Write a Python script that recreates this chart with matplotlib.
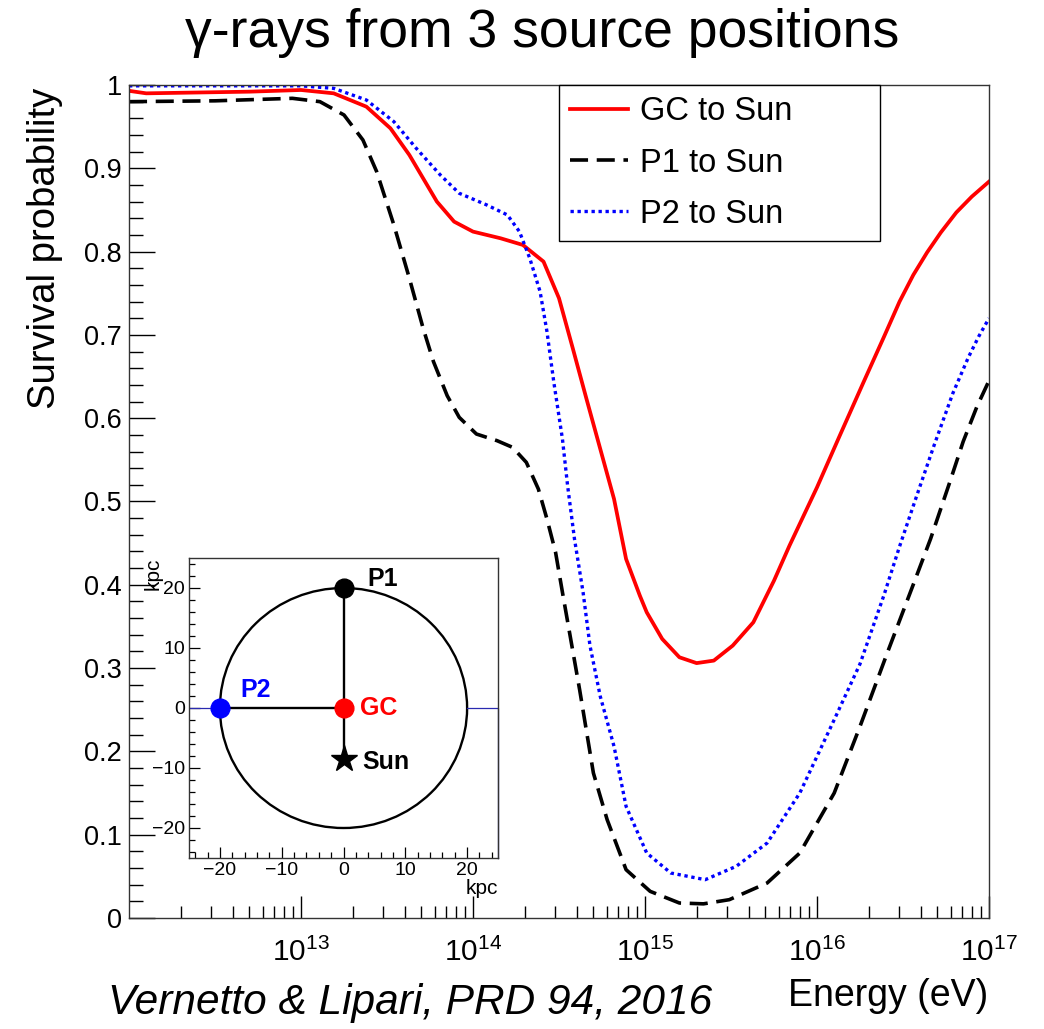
import numpy as np
import matplotlib
matplotlib.use('Agg')
from matplotlib import pyplot as plt
from matplotlib.patches import Circle
from matplotlib.ticker import FixedLocator, LogLocator, MultipleLocator, NullFormatter, FuncFormatter

plt.rcParams['font.family'] = ['Liberation Sans', 'DejaVu Sans']
plt.rcParams['mathtext.fontset'] = 'custom'
plt.rcParams['mathtext.rm'] = 'Liberation Sans'
plt.rcParams['mathtext.it'] = 'Liberation Sans:italic'

# survival probability vs log10(E/eV)
loge_gc = [12.0, 12.1, 12.4, 12.7, 13.0, 13.19, 13.38, 13.52, 13.63, 13.79, 13.89, 14.0,
           14.16, 14.29, 14.41, 14.50, 14.58, 14.66, 14.74, 14.82, 14.89, 14.97, 15.01,
           15.10, 15.20, 15.30, 15.40, 15.51, 15.63, 15.75, 15.84, 16.0, 16.13, 16.27,
           16.39, 16.48, 16.56, 16.64, 16.72, 16.81, 16.90, 17.0]
p_gc = [0.993, 0.990, 0.991, 0.992, 0.994, 0.990, 0.974, 0.948, 0.916, 0.860, 0.836, 0.824,
        0.816, 0.808, 0.788, 0.744, 0.684, 0.623, 0.563, 0.503, 0.431, 0.387, 0.367,
        0.335, 0.313, 0.306, 0.309, 0.327, 0.355, 0.405, 0.447, 0.517, 0.578, 0.643,
        0.698, 0.740, 0.772, 0.799, 0.823, 0.847, 0.866, 0.884]

loge_p1 = [12.0, 12.5, 12.95, 13.11, 13.25, 13.36, 13.44, 13.54, 13.63, 13.71, 13.77, 13.85,
           13.92, 14.02, 14.14, 14.23, 14.31, 14.38, 14.43, 14.48, 14.52, 14.62, 14.70,
           14.78, 14.89, 15.03, 15.20, 15.34, 15.49, 15.71, 15.90, 16.10, 16.25, 16.41,
           16.55, 16.66, 16.77, 16.85, 16.93, 17.0]
p_p1 = [0.980, 0.981, 0.984, 0.980, 0.964, 0.934, 0.896, 0.832, 0.768, 0.708, 0.668, 0.627,
        0.601, 0.581, 0.573, 0.565, 0.547, 0.515, 0.479, 0.439, 0.391, 0.274, 0.174,
        0.118, 0.058, 0.032, 0.018, 0.017, 0.022, 0.042, 0.078, 0.150, 0.230, 0.319,
        0.395, 0.455, 0.522, 0.572, 0.614, 0.645]

loge_p2 = [12.0, 13.0, 13.19, 13.38, 13.54, 13.67, 13.81, 13.92, 14.08, 14.20, 14.27, 14.33,
           14.39, 14.43, 14.47, 14.52, 14.55, 14.59, 14.64, 14.68, 14.74, 14.82, 14.89,
           15.01, 15.15, 15.35, 15.53, 15.71, 15.90, 16.10, 16.25, 16.39, 16.48, 16.58,
           16.68, 16.79, 16.88, 16.94, 17.0]
p_p2 = [0.999, 0.999, 0.996, 0.982, 0.956, 0.924, 0.892, 0.870, 0.856, 0.844, 0.824, 0.792,
        0.752, 0.704, 0.643, 0.575, 0.519, 0.455, 0.391, 0.327, 0.266, 0.206, 0.134,
        0.078, 0.054, 0.046, 0.062, 0.090, 0.150, 0.238, 0.305, 0.388, 0.446, 0.507,
        0.567, 0.630, 0.673, 0.698, 0.720]

# galaxy sketch (kpc)
galaxy_radius = 20.0
src_names = ['GC', 'P1', 'P2']
src_x = [0.0, 0.0, -20.0]
src_y = [0.0, 20.0, 0.0]
src_colors = ['#ff0000', 'black', '#0000ff']
sun_x, sun_y = 0.0, -8.5
axis_line_x = [20.0, 25.0, 25.0]
axis_line_y = [0.0, 0.0, -25.0]

W, H = 1044, 1029
def fx(px):
    return px / W
def fy(py):
    return 1 - py / H

fig = plt.figure(figsize=(W / 100, H / 100), dpi=100)

ax = fig.add_axes([fx(129), fy(918), (989 - 129) / W, (918 - 85) / H])
ax.plot(10 ** np.array(loge_gc), p_gc, color='#ff0000', lw=2.7, label='GC to Sun')
ax.plot(10 ** np.array(loge_p1), p_p1, color='black', lw=2.6, dashes=(5, 2.4), label='P1 to Sun')
ax.plot(10 ** np.array(loge_p2), p_p2, color='#0000ff', lw=2.4, dashes=(1, 1.1), label='P2 to Sun')

ax.set_xscale('log')
ax.set_xlim(1e12, 1e17)
ax.set_ylim(0, 1)
ax.xaxis.set_major_locator(FixedLocator(10.0 ** np.arange(13, 18)))
ax.set_xticklabels([f'$10^{{{k}}}$' for k in range(13, 18)])
ax.xaxis.set_minor_locator(LogLocator(base=10, subs=np.arange(2, 10)))
ax.xaxis.set_minor_formatter(NullFormatter())
ax.yaxis.set_major_locator(MultipleLocator(0.1))
ax.yaxis.set_minor_locator(MultipleLocator(0.02))
ax.yaxis.set_major_formatter(FuncFormatter(lambda v, pos: '0' if abs(v) < 1e-9 else ('1' if abs(v - 1) < 1e-9 else f'{v:.1f}')))

ax.tick_params(axis='y', which='major', direction='in', length=18.5, width=1, labelsize=19.5, pad=5, right=False)
ax.tick_params(axis='y', which='minor', direction='in', length=10, width=1, right=False)
ax.tick_params(axis='x', which='major', direction='in', length=15.5, width=1, labelsize=21.5, pad=14, top=False)
ax.tick_params(axis='x', which='minor', direction='in', length=9, width=1, top=False)
for s in ax.spines.values():
    s.set_linewidth(1.0)
    s.set_color('#333333')

leg = ax.legend(loc='upper left', bbox_to_anchor=(fx(559), fy(240), (880 - 559) / W, (240 - 85) / H),
                bbox_transform=fig.transFigure, mode='expand', borderaxespad=0, fontsize=23.5,
                handlelength=1.75, handletextpad=0.37, labelspacing=0.62, borderpad=0.35,
                fancybox=False, framealpha=1)
leg.get_frame().set_edgecolor('black')
leg.get_frame().set_linewidth(1.0)

fig.text(fx(542), fy(33), 'γ-rays from 3 source positions', fontsize=38.5, ha='center', va='center')
fig.text(fx(45), fy(88), 'Survival probability', fontsize=27.5, rotation=90, ha='center', va='top')
fig.text(fx(988), fy(996), 'Energy (eV)', fontsize=27, ha='right', va='center')
fig.text(fx(108), fy(1003), 'Vernetto & Lipari, PRD 94, 2016', fontsize=30.5, style='italic',
         ha='left', va='center')

# inset: source positions in the Galaxy
axin = fig.add_axes([fx(189), fy(858), 309 / W, 300 / H])
axin.set_facecolor('white')
axin.set_xlim(-25, 25)
axin.set_ylim(-25, 25)
axin.plot([-25, src_x[2]], [0, 0], color='#2a2ab0', lw=0.9)
axin.plot(axis_line_x, axis_line_y, color='#2a2ab0', lw=0.9, clip_on=False)
axin.add_patch(Circle((0, 0), galaxy_radius, fill=False, ec='black', lw=1.7))
for x, y in zip(src_x[1:], src_y[1:]):
    axin.plot([src_x[0], x], [src_y[0], y], color='black', lw=1.7)
axin.plot([src_x[0], sun_x], [src_y[0], sun_y], color='black', lw=1.7)
for x, y, c in zip(src_x, src_y, src_colors):
    axin.plot(x, y, 'o', ms=13.5, color=c, zorder=5)
axin.plot(sun_x, sun_y, marker='*', ms=20, color='black', zorder=5)

label_offsets = {'GC': (2.7, 0.0), 'P1': (3.8, 1.5), 'P2': (3.3, 3.0)}
for name, x, y, c in zip(src_names, src_x, src_y, src_colors):
    dx, dy = label_offsets[name]
    axin.text(x + dx, y + dy, name, color=c, fontsize=18, fontweight='bold', ha='left', va='center')
axin.text(sun_x + 3.0, sun_y - 0.45, 'Sun', color='black', fontsize=18, fontweight='bold',
          ha='left', va='center')

axin.xaxis.set_major_locator(MultipleLocator(10))
axin.xaxis.set_minor_locator(MultipleLocator(2))
axin.yaxis.set_major_locator(MultipleLocator(10))
axin.yaxis.set_minor_locator(MultipleLocator(2))
axin.tick_params(which='major', direction='in', length=8, width=0.9, labelsize=14, pad=3)
axin.tick_params(which='minor', direction='in', length=4, width=0.9)
for s in axin.spines.values():
    s.set_linewidth(1.0)
    s.set_color('#333333')
axin.text(1.0, -0.1, 'kpc', transform=axin.transAxes, fontsize=15, ha='right', va='center')
axin.text(-0.115, 1.0, 'kpc', transform=axin.transAxes, fontsize=15, rotation=90, ha='center', va='top')

fig.savefig('out.png', dpi=100)
